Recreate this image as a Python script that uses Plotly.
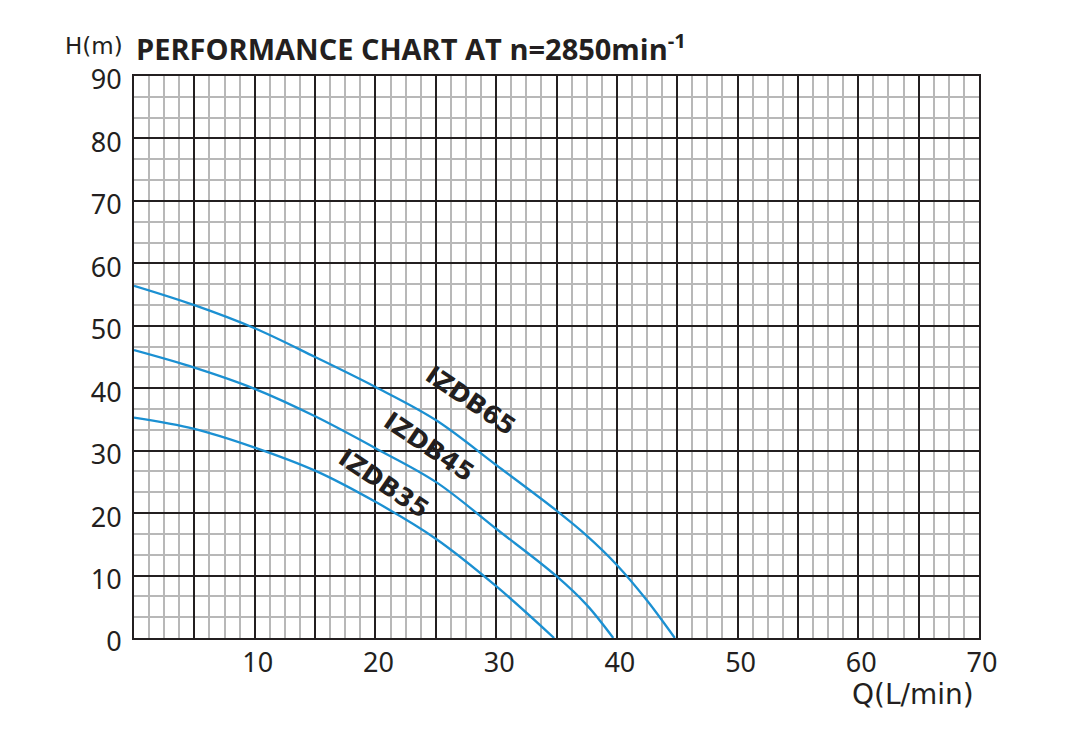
import plotly.graph_objects as go

# Q (L/min) and H (m)
q_65 = [0, 5, 10, 15, 20, 25, 30, 35, 37.5, 40, 42.5, 44.8]
h_65 = [56.4, 53.3, 49.6, 45.0, 40.2, 34.9, 27.7, 20.4, 16.4, 11.7, 6.0, 0]

q_45 = [0, 5, 10, 15, 20, 25, 30, 35, 37.5, 39.7]
h_45 = [46.1, 43.3, 39.9, 35.5, 30.4, 25.0, 17.5, 9.9, 5.3, 0]

q_35 = [0, 5, 10, 15, 20, 25, 30, 34.8]
h_35 = [35.3, 33.5, 30.5, 26.8, 21.8, 15.9, 8.3, 0]

x_ticks = list(range(0, 75, 5))
x_labels = [str(v) if v % 10 == 0 and v > 0 else '' for v in x_ticks]
y_ticks = list(range(0, 100, 10))

models = [
    ('IZDB65', q_65, h_65, 27.9, 38.1),
    ('IZDB45', q_45, h_45, 24.4, 30.6),
    ('IZDB35', q_35, h_35, 20.7, 24.8),
]

curve_color = '#1b90d2'
ink = '#231f20'
minor_grey = '#b8b8b8'

fig = go.Figure()
for name, q, h, lx, ly in models:
    fig.add_trace(go.Scatter(
        x=q, y=h, mode='lines', name=name,
        line=dict(color=curve_color, width=2.3, shape='spline', smoothing=1.0),
        showlegend=False, hoverinfo='skip'
    ))
    fig.add_annotation(
        x=lx, y=ly, text='<b>%s</b>' % name, showarrow=False,
        textangle=34, font=dict(family='DejaVu Sans', size=25, color=ink)
    )

# page is drawn with an 8px body offset, so the margins are shifted by that
L, R, T, B = 126, 100, 68, 121
W, H = 1071, 751
pw, ph = W - L - R, H - T - B

def px(x):
    return (x - 8 - L) / pw

def py(y):
    return (H - B - (y - 8)) / ph

fig.add_annotation(
    x=px(125), y=py(46), xref='paper', yref='paper', xanchor='right', yanchor='middle',
    text='H(m)', showarrow=False, font=dict(family='DejaVu Sans', size=23, color=ink)
)
fig.add_annotation(
    x=px(134), y=py(47), xref='paper', yref='paper', xanchor='left', yanchor='middle',
    text='<b>PERFORMANCE CHART AT n=2850min<sup>-1</sup></b>', showarrow=False,
    font=dict(family='Open Sans', size=29, color=ink)
)
fig.add_annotation(
    x=px(976), y=py(694), xref='paper', yref='paper', xanchor='right', yanchor='middle',
    text='Q(L/min)', showarrow=False, font=dict(family='DejaVu Sans', size=28, color=ink)
)

fig.update_layout(
    width=W, height=H,
    margin=dict(l=L, r=R, t=T, b=B),
    paper_bgcolor='white', plot_bgcolor='white',
    font=dict(family='Noto Sans', size=27, color=ink),
    xaxis=dict(
        range=[0, 70], tickvals=x_ticks, ticktext=x_labels,
        showgrid=True, gridcolor=ink, gridwidth=2,
        showline=True, linecolor=ink, linewidth=2, mirror=True,
        ticks='', ticklabelstandoff=0, ticklabelshift=3, zeroline=False,
        minor=dict(dtick=1.25, tick0=0, showgrid=True, gridcolor=minor_grey, gridwidth=1.5)
    ),
    yaxis=dict(
        range=[0, 90], tickvals=y_ticks,
        showgrid=True, gridcolor=ink, gridwidth=2,
        showline=True, linecolor=ink, linewidth=2, mirror=True,
        ticks='', ticklabelstandoff=5, ticklabelshift=4, zeroline=False,
        minor=dict(dtick=10 / 3, tick0=0, showgrid=True, gridcolor=minor_grey, gridwidth=1.5)
    ),
)

fig.write_html('out.html')
